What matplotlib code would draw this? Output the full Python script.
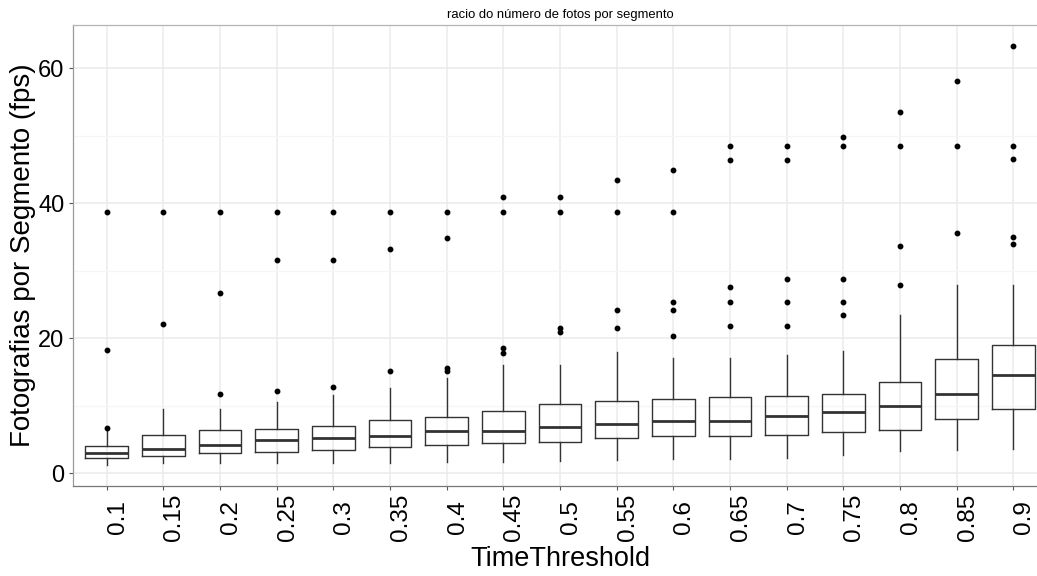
import matplotlib
matplotlib.use("Agg")
import matplotlib.pyplot as plt
from matplotlib.ticker import MultipleLocator

plt.rcParams['font.family'] = ['Liberation Sans', 'DejaVu Sans']

categories = ['0.1', '0.15', '0.2', '0.25', '0.3', '0.35', '0.4', '0.45', '0.5',
              '0.55', '0.6', '0.65', '0.7', '0.75', '0.8', '0.85', '0.9']
q1 = [2.22, 2.56, 2.96, 3.2, 3.45, 3.9, 4.19, 4.44, 4.68, 5.19, 5.48, 5.53, 5.72, 6.12, 6.46, 8.04, 9.53]
med = [2.96, 3.6, 4.19, 4.93, 5.28, 5.57, 6.27, 6.31, 6.86, 7.35, 7.75, 7.75, 8.44, 9.04, 10.02, 11.79, 14.56]
q3 = [4.04, 5.63, 6.41, 6.52, 7.05, 7.85, 8.39, 9.28, 10.3, 10.76, 11.05, 11.35, 11.41, 11.79, 13.53, 16.93, 19.05]
whislo = [1.23, 1.48, 1.48, 1.48, 1.58, 1.58, 1.73, 1.73, 1.87, 1.97, 2.07, 2.12, 2.27, 2.67, 3.26, 3.45, 3.65]
whishi = [6.4, 9.5, 9.6, 10.5, 11.6, 12.68, 14.07, 16.04, 16.04, 17.93, 17.13, 17.13, 17.53, 18.12, 23.45, 27.9, 27.9]
outliers = [
    [38.76, 18.27, 6.76],
    [38.76, 22.1],
    [38.76, 26.76, 11.7],
    [38.76, 31.65, 12.24],
    [38.76, 31.65, 12.83],
    [38.76, 33.2, 15.16],
    [38.76, 34.8, 15.55, 15.2],
    [41.0, 38.76, 18.6, 17.78],
    [41.0, 38.76, 21.48, 20.89],
    [43.5, 38.76, 24.2, 21.48],
    [44.93, 38.76, 25.38, 24.2, 20.34],
    [48.44, 46.41, 27.56, 25.38, 21.78],
    [48.44, 46.41, 28.83, 25.38, 21.78],
    [49.78, 48.44, 28.83, 25.38, 23.5],
    [53.57, 48.44, 33.63, 27.94],
    [58.07, 48.44, 35.64],
    [63.35, 48.44, 46.6, 34.96, 33.97],
]

title = 'racio do número de fotos por segmento'
xlabel = 'TimeThreshold'
ylabel = 'Fotografias por Segmento (fps)'

W, H = 1037, 576
fig = plt.figure(figsize=(W / 100, H / 100), dpi=100)
ax = fig.add_axes([72.7 / W, 1 - 486 / H, (1047.3 - 72.7) / W, (486 - 25) / H])

stats = []
for i in range(len(categories)):
    stats.append(dict(q1=q1[i], med=med[i], q3=q3[i], whislo=whislo[i],
                      whishi=whishi[i], fliers=outliers[i]))

edge = '#333333'
positions = list(range(len(categories)))
ax.bxp(stats, positions=positions, widths=0.75, showcaps=False,
       boxprops=dict(color=edge, linewidth=1.0),
       whiskerprops=dict(color=edge, linewidth=1.0),
       medianprops=dict(color=edge, linewidth=2.0),
       flierprops=dict(marker='o', markerfacecolor='black', markeredgecolor='black',
                       markersize=3.2, linestyle='none'),
       zorder=3)

ax.set_xlim(-0.6, len(categories) - 1 + 0.6)
ax.set_ylim(-1.88, 66.41)

ax.yaxis.set_major_locator(MultipleLocator(20))
ax.yaxis.set_minor_locator(MultipleLocator(10))
ax.set_xticks(positions)
ax.set_xticklabels(categories)

ax.grid(True, which='major', axis='both', color='#EBEBEB', linewidth=1.1, zorder=0)
ax.grid(True, which='minor', axis='y', color='#F5F5F5', linewidth=0.9, zorder=0)
ax.set_axisbelow(True)

ax.spines['top'].set_color('#B5B5B5')
ax.spines['top'].set_linewidth(0.9)
ax.spines['right'].set_visible(False)
ax.spines['left'].set_color('#9A9A9A')
ax.spines['left'].set_linewidth(0.9)
ax.spines['bottom'].set_color('#777777')
ax.spines['bottom'].set_linewidth(0.9)

ax.tick_params(axis='y', which='major', length=3, width=0.8, color='#555555',
               labelsize=17, pad=3, labelcolor='black')
ax.tick_params(axis='y', which='minor', length=0)
ax.tick_params(axis='x', which='major', length=3, width=0.8, color='#555555',
               labelsize=17.5, pad=19.5, labelcolor='black')
for lab in ax.get_xticklabels():
    lab.set_rotation(90)
    lab.set_ha('left')
    lab.set_va('center')

ax.set_title(title, fontsize=9.4, pad=5)
ax.set_xlabel(xlabel, fontsize=19.5)
ax.xaxis.set_label_coords((560 - 72.7) / (1047.3 - 72.7), (486 - 546.5) / 461)
ax.set_ylabel(ylabel, fontsize=20, va='center')
ax.yaxis.set_label_coords((23.5 - 72.7) / (1047.3 - 72.7), 0.5)

fig.savefig('out.png', dpi=100)
